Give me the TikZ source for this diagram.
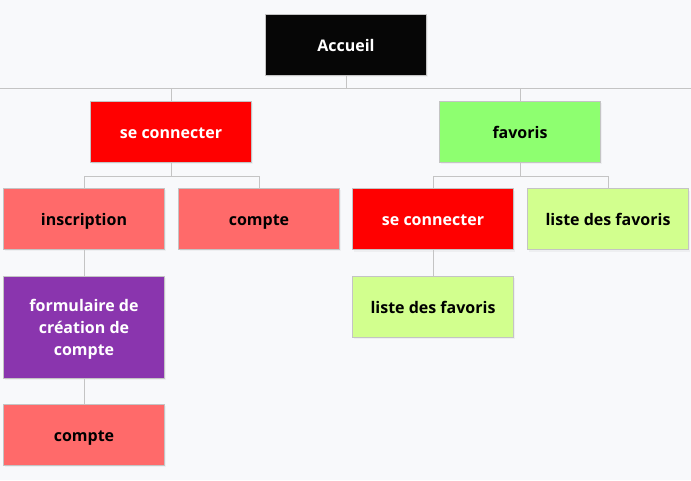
\documentclass[tikz,border=0pt]{standalone}
\usepackage{fontspec}
\setmainfont{Open Sans}
\usetikzlibrary{shadows}
\definecolor{bg}{HTML}{F8F9FB}
\definecolor{edge}{HTML}{C4C4C4}
\definecolor{cblack}{HTML}{060606}
\definecolor{cred}{HTML}{FF0000}
\definecolor{csalmon}{HTML}{FF6A6A}
\definecolor{cpurple}{HTML}{8A35AE}
\definecolor{cgreen}{HTML}{8EFF70}
\definecolor{clight}{HTML}{D2FF8E}
\tikzset{
  box/.style={draw=edge, line width=0.75pt, minimum width=161*0.75pt, minimum height=61*0.75pt,
    inner sep=0pt, font=\fontsize{12}{16.5}\selectfont\bfseries,
    text height=11pt, text depth=1pt,
    drop shadow={opacity=0.08, shadow xshift=0.75pt, shadow yshift=-1.5pt}},
  wbox/.style={box, text=white},
  kbox/.style={box, text=black},
  multi/.style={text height=, text depth=, align=center},
  link/.style={draw=edge, line width=0.75pt}
}
\begin{document}
\begin{tikzpicture}[x=0.75pt,y=-0.75pt]
\fill[bg] (0,0) rectangle (691,480);
\useasboundingbox (0,0) rectangle (691,480);
\node[wbox, fill=cblack] (acc) at (346,44.5) {Accueil};
\node[wbox, fill=cred] (sc1) at (171,131.5) {se connecter};
\node[kbox, fill=cgreen] (fav) at (520,131.5) {favoris};
\node[kbox, fill=csalmon] (ins) at (84,218.5) {inscription};
\node[kbox, fill=csalmon] (cpt1) at (259,218.5) {compte};
\node[wbox, fill=cred] (sc2) at (433,219) {se connecter};
\node[kbox, fill=clight] (lf1) at (608,219) {liste des favoris};
\node[kbox, fill=clight] (lf2) at (433,306.5) {liste des favoris};
\node[wbox, multi, fill=cpurple, minimum height=102*0.75pt] (form) at (84,327) {\rule{0pt}{12pt}formulaire de\\création de\\compte};
\node[kbox, fill=csalmon] (cpt2) at (84,434.5) {compte};
\coordinate (lineL) at (0,88);
\coordinate (lineR) at (691,88);
\draw[link] (lineL) -- (lineR);
\draw[link] (acc.south) -- (acc.south |- lineL);
\draw[link] (sc1.north) -- (sc1.north |- lineL);
\draw[link] (fav.north) -- (fav.north |- lineL);
\draw[link] (sc1.south) -- ++(0,14) -| (ins.north);
\draw[link] (sc1.south) ++(0,14) -| (cpt1.north);
\draw[link] (fav.south) -- ++(0,14) -| (sc2.north);
\draw[link] (fav.south) ++(0,14) -| (lf1.north);
\draw[link] (sc2.south) -- (lf2.north);
\draw[link] (ins.south) -- (form.north);
\draw[link] (form.south) -- (cpt2.north);
\end{tikzpicture}
\end{document}
